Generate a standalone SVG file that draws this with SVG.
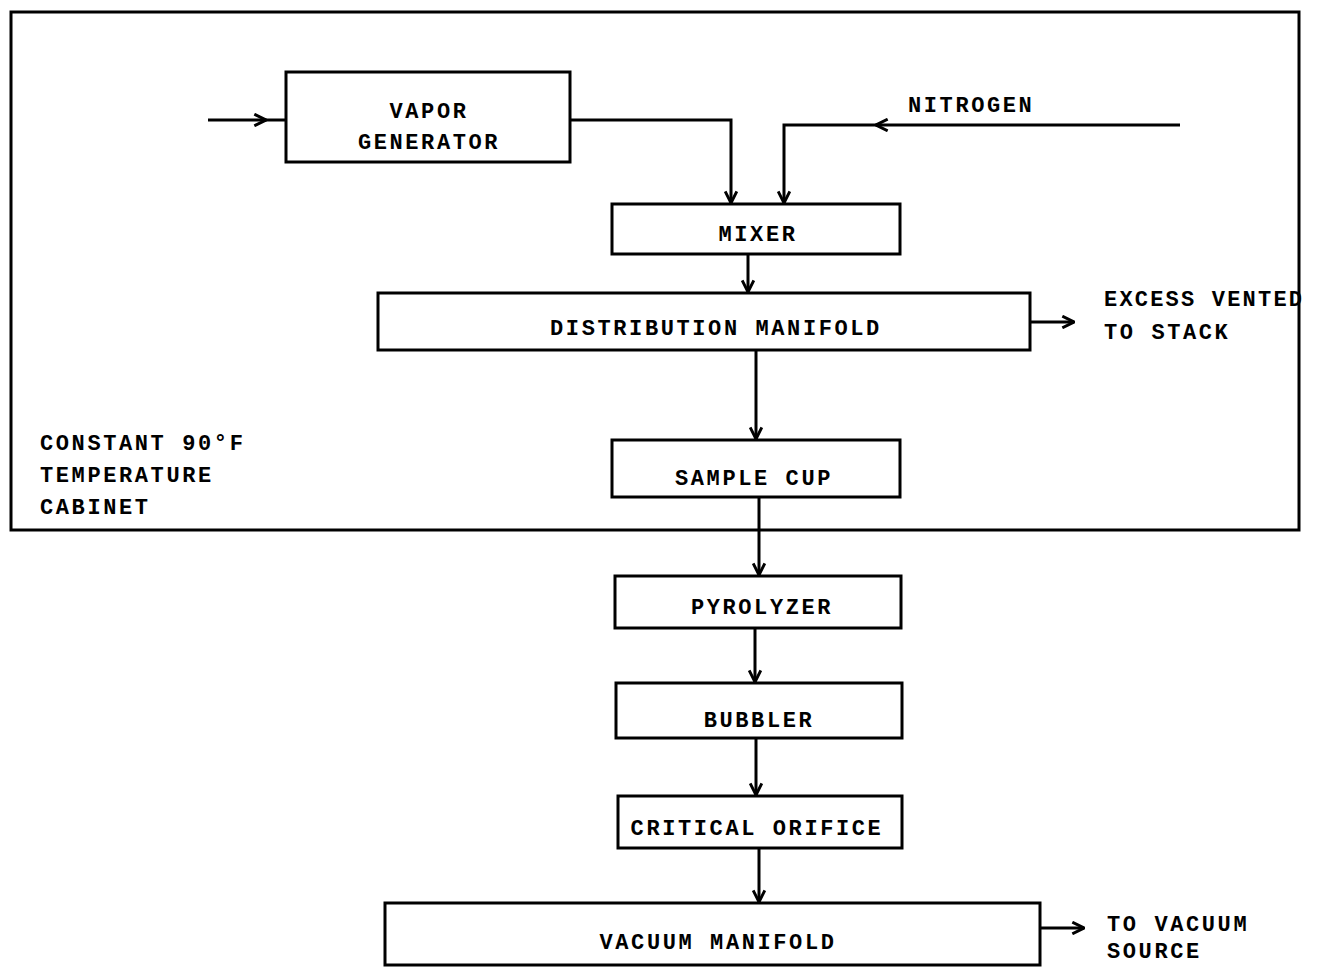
<svg xmlns="http://www.w3.org/2000/svg" width="1317" height="968" viewBox="0 0 1317 968">
<defs>
<style>
.box{fill:none;stroke:#000;stroke-width:3}
.ln{fill:none;stroke:#000;stroke-width:3}
.t{font-family:"Liberation Mono","DejaVu Sans Mono",monospace;font-weight:bold;font-size:22px;letter-spacing:2.6px;fill:#000}
.c{text-anchor:middle}
</style>
<marker id="ah" viewBox="0 0 12 12" refX="11" refY="6" markerWidth="14" markerHeight="14" markerUnits="userSpaceOnUse" orient="auto">
<path d="M1,1 L11,6 L1,11" fill="none" stroke="#000" stroke-width="2.5"/>
</marker>
</defs>
<rect width="1317" height="968" fill="#fff"/>
<g id="cabinet">
<rect class="box" x="11" y="12" width="1288" height="518"/>
<text class="t" x="40" y="450">CONSTANT 90°F</text>
<text class="t" x="40" y="482">TEMPERATURE</text>
<text class="t" x="40" y="514">CABINET</text>
</g>
<g id="connectors">
<line class="ln" x1="208" y1="120" x2="266" y2="120" marker-end="url(#ah)"/>
<line class="ln" x1="264" y1="120" x2="286" y2="120"/>
<polyline class="ln" points="570,120 731,120 731,203" marker-end="url(#ah)"/>
<line class="ln" x1="1180" y1="125" x2="876" y2="125" marker-end="url(#ah)"/>
<polyline class="ln" points="878,125 784,125 784,203" marker-end="url(#ah)"/>
<line class="ln" x1="748" y1="254" x2="748" y2="292" marker-end="url(#ah)"/>
<line class="ln" x1="1030" y1="322" x2="1074" y2="322" marker-end="url(#ah)"/>
<line class="ln" x1="756" y1="350" x2="756" y2="439" marker-end="url(#ah)"/>
<line class="ln" x1="759" y1="497" x2="759" y2="575" marker-end="url(#ah)"/>
<line class="ln" x1="755" y1="628" x2="755" y2="682" marker-end="url(#ah)"/>
<line class="ln" x1="756" y1="738" x2="756" y2="795" marker-end="url(#ah)"/>
<line class="ln" x1="759" y1="848" x2="759" y2="902" marker-end="url(#ah)"/>
<line class="ln" x1="1040" y1="928" x2="1084" y2="928" marker-end="url(#ah)"/>
</g>
<g id="vapor-generator">
<rect class="box" x="286" y="72" width="284" height="90"/>
<text class="t c" x="429" y="118">VAPOR</text>
<text class="t c" x="429" y="149">GENERATOR</text>
</g>
<g id="nitrogen">
<text class="t" x="908" y="112">NITROGEN</text>
</g>
<g id="mixer">
<rect class="box" x="612" y="204" width="288" height="50"/>
<text class="t c" x="758" y="241">MIXER</text>
</g>
<g id="distribution-manifold">
<rect class="box" x="378" y="293" width="652" height="57"/>
<text class="t c" x="716" y="335">DISTRIBUTION MANIFOLD</text>
</g>
<g id="excess-vented">
<text class="t" x="1104" y="306" style="letter-spacing:2.2px">EXCESS VENTED</text>
<text class="t" x="1104" y="339">TO STACK</text>
</g>
<g id="sample-cup">
<rect class="box" x="612" y="440" width="288" height="57"/>
<text class="t c" x="754" y="485">SAMPLE CUP</text>
</g>
<g id="pyrolyzer">
<rect class="box" x="615" y="576" width="286" height="52"/>
<text class="t c" x="762" y="614">PYROLYZER</text>
</g>
<g id="bubbler">
<rect class="box" x="616" y="683" width="286" height="55"/>
<text class="t c" x="759" y="727">BUBBLER</text>
</g>
<g id="critical-orifice">
<rect class="box" x="618" y="796" width="284" height="52"/>
<text class="t c" x="757" y="835">CRITICAL ORIFICE</text>
</g>
<g id="vacuum-manifold">
<rect class="box" x="385" y="903" width="655" height="62"/>
<text class="t c" x="718" y="949">VACUUM MANIFOLD</text>
</g>
<g id="vacuum-source">
<text class="t" x="1107" y="931">TO VACUUM</text>
<text class="t" x="1107" y="958">SOURCE</text>
</g>
</svg>
